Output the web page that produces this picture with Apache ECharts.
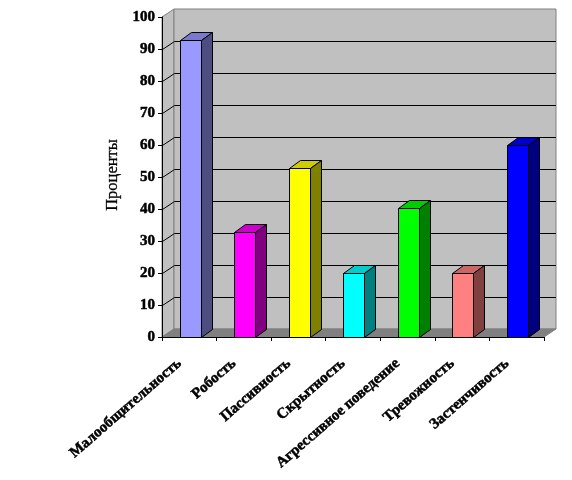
<!DOCTYPE html>
<html lang="ru">
<head>
    <meta charset="UTF-8">
    <title>Проценты</title>
    <script src="https://cdn.jsdelivr.net/npm/echarts@6/dist/echarts.min.js"></script>
    <style>
        html, body { margin: 0; padding: 0; background: #fff; }
    </style>
</head>
<body>
<div id="main" style="width: 572px;height:480px;"></div>
<script type="text/javascript">
    var categories = ['Малообщительность', 'Робость', 'Пассивность', 'Скрытность', 'Агрессивное поведение', 'Тревожность', 'Застенчивость'];
    var percents = [92.8, 32.8, 52.8, 20, 40.3, 20, 60];
    var yTicks = [0, 10, 20, 30, 40, 50, 60, 70, 80, 90, 100];

    var frontColors = ['#9999FF', '#FF00FF', '#FFFF00', '#00FFFF', '#00FF00', '#FF8080', '#0000FF'];
    var topColors = ['#7A7ACC', '#CC00CC', '#CCCC00', '#00CCCC', '#00CC00', '#CC6666', '#0000CC'];
    var sideColors = ['#4D4D80', '#800080', '#808000', '#008080', '#008000', '#804040', '#000080'];

    // сдвиг задней стенки относительно передней плоскости
    var depthX = 12, depthY = -8, barDepthX = 11, barWidth = 21;
    var font = '"Liberation Serif", "Times New Roman", serif';

    function poly(points, fill, stroke) {
        return {
            type: 'polygon',
            shape: { points: points },
            style: { fill: fill, stroke: stroke, lineWidth: 1 }
        };
    }

    function line(x1, y1, x2, y2, color) {
        return {
            type: 'line',
            shape: { x1: x1, y1: y1, x2: x2, y2: y2 },
            style: { stroke: color, lineWidth: 1 }
        };
    }

    // стенки и пол
    function renderWalls(params, api) {
        var g = params.coordSys;
        var l = g.x, r = g.x + g.width, t = g.y, b = g.y + g.height;
        return {
            type: 'group',
            children: [
                poly([[l, b], [l + depthX, b + depthY], [l + depthX, t + depthY], [l, t]], '#C0C0C0', '#808080'),
                poly([[l + depthX, b + depthY], [r + depthX, b + depthY], [r + depthX, t + depthY], [l + depthX, t + depthY]], '#C0C0C0', '#808080'),
                poly([[l, b], [l + depthX, b + depthY], [r + depthX, b + depthY], [r, b]], '#808080', '#808080')
            ]
        };
    }

    // линии сетки
    function renderGridLine(params, api) {
        var g = params.coordSys;
        var y = Math.round(api.coord([0, api.value(0)])[1]) + 0.5;
        var l = g.x + 0.5, r = g.x + g.width;
        return {
            type: 'group',
            children: [
                line(l, y, l + depthX, y + depthY, '#000'),
                line(l + depthX, y + depthY, r + depthX, y + depthY, '#000')
            ]
        };
    }

    function renderBar(params, api) {
        var i = params.dataIndex;
        var top = api.coord([api.value(0), api.value(1)]);
        var base = api.coord([api.value(0), 0]);
        var x0 = Math.round(top[0] - barWidth / 2 + 0.8) + 0.5;
        var x1 = x0 + barWidth;
        var y0 = Math.round(top[1]) + 0.5;
        var y1 = Math.round(base[1]) + 0.5;
        return {
            type: 'group',
            children: [
                poly([[x0, y0], [x1, y0], [x1, y1], [x0, y1]], frontColors[i], '#000'),
                poly([[x0, y0], [x0 + barDepthX, y0 + depthY], [x1 + barDepthX, y0 + depthY], [x1, y0]], topColors[i], '#000'),
                poly([[x1, y0], [x1 + barDepthX, y0 + depthY], [x1 + barDepthX, y1 + depthY], [x1, y1]], sideColors[i], '#000')
            ]
        };
    }

    var myChart = echarts.init(document.getElementById('main'), null, { renderer: 'canvas' });
    var option = {
        animation: false,
        backgroundColor: '#fff',
        grid: { left: 162, top: 17, width: 382, height: 320, containLabel: false },
        xAxis: {
            type: 'category',
            data: categories,
            axisLine: { show: true, lineStyle: { color: '#000', width: 1 } },
            axisTick: { show: true, length: 4, alignWithLabel: false, lineStyle: { color: '#000' } },
            axisLabel: {
                interval: 0,
                rotate: 41,
                margin: 16,
                padding: [0, 13, 0, 0],
                color: '#000',
                fontFamily: font,
                fontWeight: 'bold',
                fontSize: 15,
                textBorderColor: '#000',
                textBorderWidth: 0.5
            },
            z: 5
        },
        yAxis: {
            type: 'value',
            min: 0,
            max: 100,
            interval: 10,
            name: 'Проценты',
            nameLocation: 'middle',
            nameGap: 40,
            nameRotate: 90,
            nameTextStyle: {
                color: '#000',
                fontFamily: font,
                fontSize: 16.5,
                padding: [0, 0, 0, 4],
                textBorderColor: '#000',
                textBorderWidth: 0.3
            },
            axisLine: { show: true, lineStyle: { color: '#000', width: 1 } },
            axisTick: { show: true, length: 4, lineStyle: { color: '#000' } },
            axisLabel: {
                margin: 7,
                padding: [4, 0, 0, 0],
                color: '#000',
                fontFamily: font,
                fontWeight: 'bold',
                fontSize: 15,
                textBorderColor: '#000',
                textBorderWidth: 0.5
            },
            splitLine: { show: false },
            z: 5
        },
        series: [
            {
                type: 'custom',
                silent: true,
                coordinateSystem: 'cartesian2d',
                renderItem: renderWalls,
                data: [[0, 0]],
                z: 1
            },
            {
                type: 'custom',
                silent: true,
                coordinateSystem: 'cartesian2d',
                renderItem: renderGridLine,
                encode: { y: 0 },
                data: yTicks.slice(1, -1).map(function (v) { return [v]; }),
                z: 2
            },
            {
                type: 'custom',
                silent: true,
                coordinateSystem: 'cartesian2d',
                renderItem: renderBar,
                encode: { x: 0, y: 1 },
                data: percents.map(function (v, i) { return [i, v]; }),
                z: 3
            }
        ]
    };
    myChart.setOption(option);
</script>
</body>
</html>
